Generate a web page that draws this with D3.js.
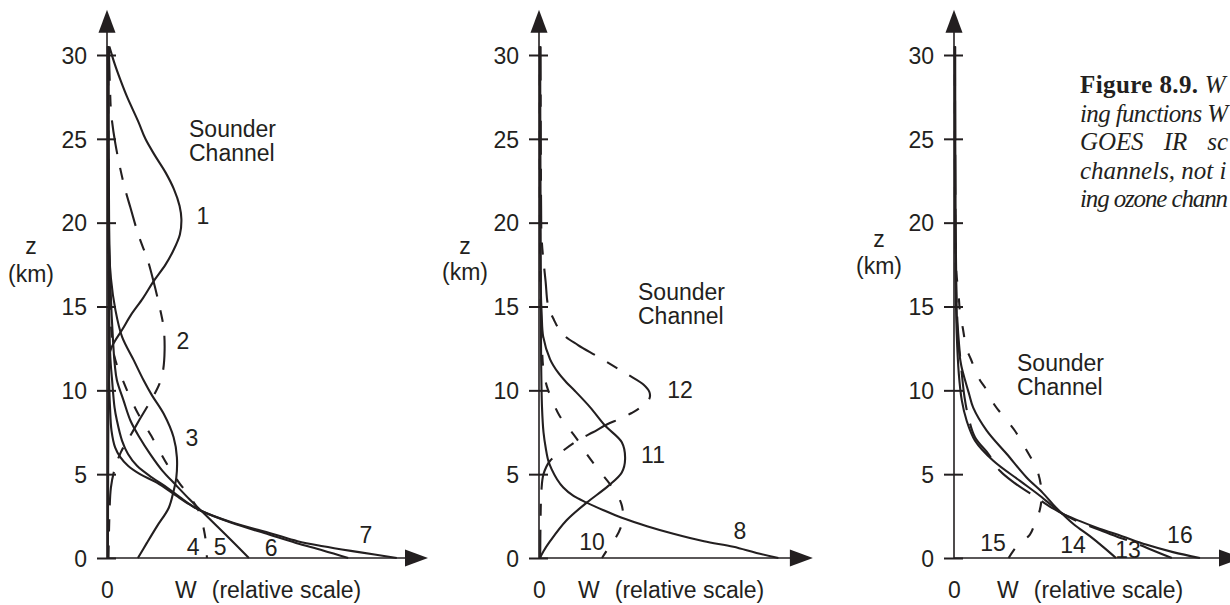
<!DOCTYPE html>
<html><head><meta charset="utf-8">
<script src="https://cdn.jsdelivr.net/npm/d3@7"></script>
<style>
html,body{margin:0;padding:0;background:#fff;}
svg{display:block;}
text{font-family:"Liberation Sans",Arial,Helvetica,sans-serif;fill:#231f20;}
.cap{font-family:"Liberation Serif","Times New Roman",serif;}
</style></head><body>
<svg id="chart" width="1230" height="605"></svg>
<script>
// ---------- data : [z (km), W (relative)] ----------
const zTicks = [0, 5, 10, 15, 20, 25, 30];

// panel 1
const ch1 = [[30.5,0.8],[29.5,2.5],[28.5,4.5],[27.5,6.7],[26,10.5],[25,12.8],[24,16],[23,19.5],[22,22.3],[21,24.2],[20.2,24.8],[19.3,24.3],[18.3,22],[17.5,19.5],[16.5,15.5],[15.5,12],[14.5,8],[13.6,5],[12.9,2.5],[12.3,1.0],[11,0.6],[6,0.4],[0,0.3]];
const ch2 = [[30.5,0.6],[28,1.0],[26.5,1.4],[24.7,2.8],[22.3,5.6],[20.9,7.8],[19.2,10.6],[17.8,13.5],[16.5,15.5],[15,17.5],[13.7,18.9],[12.4,19.2],[11.2,18.7],[10.4,17.5],[9.7,15.6],[8.3,11],[7.3,7.8],[6.3,4.6],[5.2,2.4],[4.2,1.3],[2.5,0.8],[0,0.5]];
const ch3 = [[30.5,0.3],[24,0.4],[19,0.6],[16.7,1.3],[14.8,2.8],[13.2,5],[11.8,8.9],[10.6,12.2],[9.7,15],[8.6,18.9],[7.2,22.2],[6,23.3],[4.8,23.1],[4,22.2],[3,20.6],[1.9,16.7],[0.9,13.3],[0,10.3]];
const ch4 = [[30.5,0.4],[20,0.5],[17,0.6],[13.7,1.4],[12,2.5],[10.5,5.5],[8.8,9.8],[7.3,14.7],[5.6,20],[4.5,24],[3.8,27],[2.8,30.6],[1.6,32.4],[0.7,33.1],[0,33.3]];
const ch5 = [[30.5,0.5],[20,0.7],[16,1.2],[13,2.0],[11.5,2.6],[10.6,3.3],[9.4,5.5],[8.2,7.8],[7.2,10.8],[6.2,14.4],[5.2,18.5],[4.4,22.7],[3.5,27.5],[2.8,31.5],[1.4,39.5],[0,47.3]];
const ch6 = [[30.5,0.4],[20,0.5],[15,0.7],[12,1.1],[10.6,1.7],[9,2.5],[8.2,3.3],[7,5],[6.2,7],[5.5,10],[4.8,15],[4.2,20],[3.6,24.5],[3.1,28.5],[2.8,31.5],[2.1,41.5],[1.4,54],[0.9,63],[0.45,72],[0,80.4]];
const ch7 = [[30.5,0.3],[20,0.4],[15,0.5],[12,0.6],[10.6,0.7],[9,1.0],[7.6,1.5],[6.6,2.7],[6.0,4.5],[5.5,7],[5.0,11],[4.5,16.6],[3.7,23.2],[3.2,27.5],[2.8,31.5],[2.1,42],[1.45,55],[1.0,63.5],[0.7,72],[0.35,84],[0,96.6]];

// panel 2
const ch8 = [[30.5,0.4],[20,0.5],[12,0.7],[9,1.0],[7.5,1.5],[6.5,2.3],[5.8,3.1],[5.3,4.2],[4.7,6],[4.2,8.1],[3.7,11.5],[3.3,15.9],[2.85,21.5],[2.4,27.6],[1.9,36],[1.45,44.8],[1.0,55],[0.67,64.8],[0.3,72.5],[0,79.8]];
const ch10 = [[30.5,0.3],[21,0.3],[15,0.6],[12.5,1.0],[11.2,1.5],[10.25,2.6],[9.5,4.2],[8.5,6.8],[7.1,12.6],[6.3,15.5],[5.4,19.2],[4.0,25.3],[3.2,27.5],[2.5,28],[1.8,27.2],[1.1,25.2],[0.5,22.8],[0,21]];
const ch11 = [[30.5,0.3],[20,0.4],[16,0.6],[14.5,0.9],[13.2,1.4],[11.85,3.7],[11.05,6.4],[10.5,9],[9.96,12],[9,17],[7.9,22],[6.9,27.6],[5.9,28.7],[5.1,27.6],[4.3,23.1],[3.3,15.9],[2.25,9.2],[1.0,3.7],[0.4,1.5],[0,0.3]];
const ch12 = [[30.5,0.5],[25,0.6],[21,0.7],[19,0.9],[16.5,2.2],[15,3.1],[14.2,5],[13.4,7.6],[12.7,13],[12.05,19.2],[11.4,25.3],[10.9,30],[10.35,34.8],[9.9,36.8],[9.5,36.8],[9.0,34],[8.65,30.9],[8.3,27],[7.96,22.6],[7.5,18],[7.1,13.7],[6.4,8],[5.8,3.7],[5.0,1.5],[4.0,0.8],[2,0.5],[0,0.4]];

// panel 3
const ch13 = [[30.5,0.3],[20,0.5],[16,0.7],[13.4,1.4],[11,2.6],[9.6,3.5],[8.4,4.8],[7.2,7],[6.2,11.5],[5.2,15.3],[4.5,20],[3.6,27.5],[3.0,32.5],[2.67,35.9],[2.2,41],[1.75,47.5],[1.3,54],[0.85,61],[0.4,67],[0,72.6]];
const ch14 = [[30.5,0.4],[20,0.5],[16,0.8],[14,1.0],[12.8,1.4],[11.5,2.4],[10.6,3.7],[9.8,5],[8.97,6.4],[7.6,10.9],[6.2,17.6],[4.8,24.2],[3.9,29.5],[3.2,33],[2.67,35.9],[2.0,40],[1.3,45.3],[0.65,49.8],[0,54]];
const ch15 = [[30.5,0.3],[20,0.4],[17,0.8],[16,1.4],[14.5,2.1],[13.75,2.9],[12.47,4.2],[11.87,5.6],[10.68,8.4],[10.18,10.3],[9.08,13.7],[8.58,15.9],[7.59,20.3],[7.09,22],[5.89,25.9],[5.29,27.6],[4.4,28.9],[3.6,29.2],[2.8,28.5],[2.0,26.8],[1.4,25.3],[0.7,20.9],[0,18.2]];
const ch16 = [[30.5,0.3],[20,0.4],[16,0.6],[13.4,0.9],[11,1.6],[9.4,2.6],[8.2,4.2],[7.0,7],[5.8,13.1],[4.6,22],[3.8,28],[3.1,32.8],[2.67,35.9],[2.2,42],[1.75,48.5],[1.3,56],[0.8,64],[0.35,73],[0,82]];

// channel labels: [text, W, z]
const labels1 = [["1",32,20.4],["2",25.3,12.97],["3",28.3,7.17],["4",28.7,0.66],["5",37.7,0.66],["6",54.7,0.6],["7",86.3,1.37]];
const labels2 = [["12",47,10.03],["11",38,6.15],["8",67,1.6],["10",17.7,1.0]];
const labels3 = [["15",13,0.9],["14",39.7,0.78],["13",58,0.48],["16",75.3,1.37]];

const captionLines = ["W", "ing functions W", "GOES IR sc", "channels, not i", "ing ozone chann"];

// ---------- styles / layout ----------
const dashes = {solid:null, longShort:"34,14,12,14", short:"11,17", long:"40,14"};
const panels = [
  {ox:107, tipW:107,  wLabX:175, zLab:[-76,248,275], snd:[189,137], labels:labels1,
   curves:[[ch1,"solid"],[ch2,"longShort"],[ch3,"solid"],[ch4,"short"],[ch5,"solid"],[ch6,"solid"],[ch7,"solid"]]},
  {ox:539, tipW:91.3, wLabX:578, zLab:[-74,248,273], snd:[638,300], labels:labels2,
   curves:[[ch8,"solid"],[ch10,"short"],[ch11,"solid"],[ch12,"longShort"]]},
  {ox:954, tipW:96,   wLabX:997, zLab:[-75,241,267], snd:[1017,371], labels:labels3,
   curves:[[ch13,"long"],[ch14,"solid"],[ch15,"short"],[ch16,"solid"]]}
];
const ink = "#231f20";
const svg = d3.select("#chart");
const y = d3.scaleLinear().domain([0, 30]).range([558, 55]);

panels.forEach(p => {
  const x = d3.scaleLinear().domain([0, 100]).range([p.ox, p.ox + 300]);
  const g = svg.append("g");

  // y axis with crossing ticks
  const ax = d3.axisLeft(y).tickValues(zTicks).tickSize(0).tickPadding(20);
  const ga = g.append("g").attr("transform", `translate(${p.ox},0)`).call(ax)
    .attr("font-family", null).attr("font-size", null);
  ga.select(".domain").remove();
  ga.selectAll(".tick line").attr("x1", -10).attr("x2", 9).attr("stroke", ink).attr("stroke-width", 2);
  ga.selectAll(".tick text").attr("font-size", 23).attr("fill", ink).attr("dy", "0.36em");

  // axis lines with arrowheads
  const yTop = y(32.7);
  g.append("line").attr("x1", p.ox).attr("x2", p.ox).attr("y1", y(0)).attr("y2", yTop + 18)
    .attr("stroke", ink).attr("stroke-width", 1.6);
  g.append("path").attr("d", `M${p.ox},${yTop} L${p.ox-8.5},${yTop+23} L${p.ox+8.5},${yTop+23} Z`).attr("fill", ink);
  const xt = x(p.tipW);
  g.append("line").attr("x1", p.ox).attr("x2", xt - 18).attr("y1", y(0)).attr("y2", y(0))
    .attr("stroke", ink).attr("stroke-width", 1.6);
  g.append("path").attr("d", `M${xt},${y(0)} L${xt-23},${y(0)-8.5} L${xt-23},${y(0)+8.5} Z`).attr("fill", ink);

  // x axis "0" label via axis
  const bx = d3.axisBottom(x).tickValues([0]).tickSize(0).tickFormat(d3.format("d"));
  const gb = g.append("g").attr("transform", `translate(0,${y(0)})`).call(bx)
    .attr("font-family", null).attr("font-size", null);
  gb.select(".domain").remove();
  gb.selectAll(".tick text").attr("font-size", 23).attr("fill", ink).attr("y", 40).attr("dy", 0);

  const wl = g.append("text").attr("x", p.wLabX).attr("y", 598).attr("font-size", 23).text("W");
  wl.append("tspan").attr("dx", 15).text("(relative scale)");

  // z (km)
  g.append("text").attr("x", p.ox + p.zLab[0]).attr("y", p.zLab[1] + 6).attr("text-anchor", "middle").attr("font-size", 23).text("z");
  g.append("text").attr("x", p.ox + p.zLab[0]).attr("y", p.zLab[2] + 7).attr("text-anchor", "middle").attr("font-size", 23).text("(km)");

  // Sounder Channel
  g.append("text").attr("x", p.snd[0]).attr("y", p.snd[1]).attr("font-size", 23).text("Sounder");
  g.append("text").attr("x", p.snd[0]).attr("y", p.snd[1] + 24).attr("font-size", 23).text("Channel");

  // curves
  const line = d3.line().x(d => x(d[1])).y(d => y(d[0])).curve(d3.curveCatmullRom.alpha(0.5));
  p.curves.forEach(([data, kind]) => {
    g.append("path").attr("d", line(data)).attr("fill", "none").attr("stroke", ink)
      .attr("stroke-width", 2.1).attr("stroke-linejoin", "round")
      .attr("stroke-dasharray", dashes[kind]);
  });

  // channel labels
  g.selectAll("text.lab").data(p.labels).join("text").attr("class", "lab")
    .attr("x", d => x(d[1])).attr("y", d => y(d[2])).attr("dy", "0.36em")
    .attr("text-anchor", "middle").attr("font-size", 23).text(d => d[0]);
});

// caption (as much as the original shows at the right edge)
const capX = 1080, capMaxW = 1228 - capX;
const cap = svg.append("g");
captionLines.forEach((t, i) => {
  const tx = cap.append("text").attr("class", "cap").attr("x", capX).attr("y", 93 + i * 28.5)
    .attr("font-size", 25);
  if (i === 0) {
    tx.append("tspan").attr("font-weight", "bold").attr("letter-spacing", 0.4).text("Figure 8.9.");
    tx.append("tspan").attr("font-style", "italic").text("\u00a0" + t);
  } else {
    tx.attr("font-style", "italic").text(t);
    if (i === 2) tx.attr("word-spacing", 14);
    const len = tx.node().getComputedTextLength();
    if (len > capMaxW) tx.attr("textLength", capMaxW).attr("lengthAdjust", "spacing");
  }
});
</script>
</body></html>
